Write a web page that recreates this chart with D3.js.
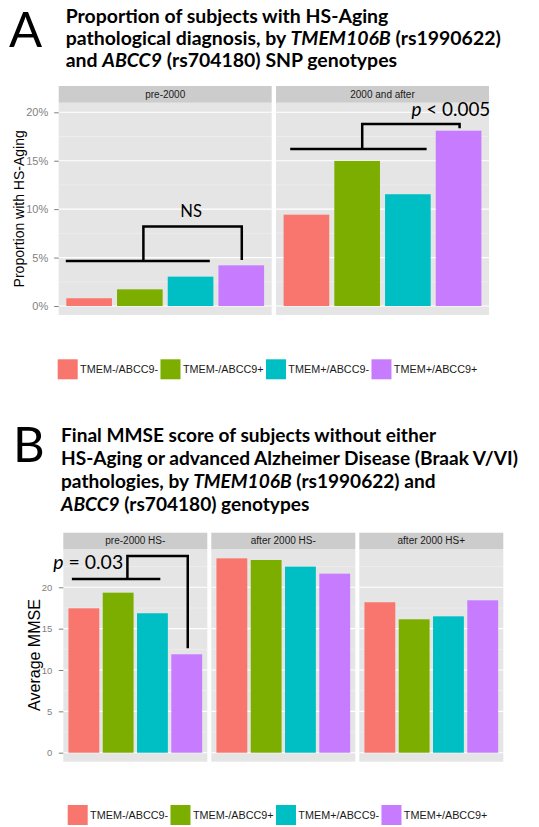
<!DOCTYPE html>
<html><head><meta charset="utf-8">
<script src="https://cdn.jsdelivr.net/npm/d3@7"></script>
<style>body{margin:0;background:#fff}svg{display:block}</style>
</head><body>
<svg id="c" width="539" height="827"></svg>
<script>
// ---------- data ----------
const genotypes = ["TMEM-/ABCC9-", "TMEM-/ABCC9+", "TMEM+/ABCC9-", "TMEM+/ABCC9+"];
const genotypeColors = ["#F8766D", "#7CAE00", "#00BFC4", "#C77CFF"];

const facetsA = ["pre-2000", "2000 and after"];
const propPre2000 = [0.8, 1.72, 3.03, 4.2];        // % with HS-Aging
const propAfter2000 = [9.43, 14.98, 11.54, 18.1];
const ticksA = [0, 5, 10, 15, 20];
const tickLabelsA = ["0%", "5%", "10%", "15%", "20%"];
const minorTicksA = [2.5, 7.5, 12.5, 17.5];

const facetsB = ["pre-2000 HS-", "after 2000 HS-", "after 2000 HS+"];
const mmsePre2000HSneg = [17.46, 19.35, 16.86, 11.9];
const mmseAfter2000HSneg = [23.5, 23.3, 22.5, 21.65];
const mmseAfter2000HSpos = [18.19, 16.13, 16.49, 18.43];
const ticksB = [0, 5, 10, 15, 20];
const tickLabelsB = ["0", "5", "10", "15", "20"];
const minorTicksB = [2.5, 7.5, 12.5, 17.5, 22.5];

// significance brackets, in data units (x = category position 1..4, y = value)
const nsBase = [[0.54, 4.65], [3.38, 4.65]];
const nsBracket = [[2.07, 4.65], [2.07, 8.2], [4.01, 8.2], [4.01, 4.75]];
const nsLabelPos = [3.01, 9.16];
const pA2Base = [[0.68, 16.2], [3.37, 16.2]];
const pA2Bracket = [[2.10, 16.2], [2.10, 18.8], [4.02, 18.8], [4.02, 18.36]];
const pA2LabelPos = [3.07, 19.63];
const pB1Base = [[0.65, 21.0], [3.23, 21.0]];
const pB1Bracket = [[2.27, 21.0], [2.27, 23.78], [4.03, 23.78], [4.03, 12.62]];
const pB1LabelPos = [0.107, 22.18];

// ---------- drawing ----------
const svg = d3.select("#c");
const AX = "Liberation Sans, Arial, sans-serif";
const TF = "Lato, Carlito, sans-serif";

function fitFont(sel, target) {
  const w = sel.node().getComputedTextLength();
  const fs = parseFloat(sel.attr("font-size"));
  return fs * target / w;
}

function drawTitle(letter, lx, lby, lines, x0, baselines, widestIdx, targetW) {
  svg.append("text").attr("x", lx).attr("y", lby).attr("font-family", TF)
    .attr("font-size", 49).attr("fill", "#000").text(letter);
  const texts = lines.map((parts, i) => {
    const t = svg.append("text").attr("x", x0).attr("y", baselines[i])
      .attr("font-family", TF).attr("font-weight", "bold").attr("font-size", 16).attr("fill", "#000");
    parts.forEach(p => t.append("tspan").attr("font-style", p.i ? "italic" : "normal").text(p.t));
    return t;
  });
  const fs = fitFont(texts[widestIdx], targetW);
  texts.forEach(t => t.attr("font-size", fs));
}

function drawFacets(cfg) {
  const y = d3.scaleLinear().domain([0, 20]).range(cfg.yRange);
  cfg.facets.forEach((name, fi) => {
    const left = cfg.left + fi * (cfg.width + cfg.gap), right = left + cfg.width;
    const g = svg.append("g");
    g.append("rect").attr("x", left).attr("y", cfg.stripBottom).attr("width", cfg.width)
      .attr("height", cfg.bottom - cfg.stripBottom).attr("fill", "#E5E5E5");
    g.append("rect").attr("x", left).attr("y", cfg.stripTop).attr("width", cfg.width)
      .attr("height", cfg.stripBottom - cfg.stripTop).attr("fill", "#CCCCCC");
    g.append("text").attr("x", (left + right) / 2).attr("y", (cfg.stripTop + cfg.stripBottom) / 2)
      .attr("dy", "0.35em").attr("text-anchor", "middle").attr("font-family", AX)
      .attr("font-size", 10).attr("fill", "#1A1A1A").text(name);
    cfg.minor.forEach(v => g.append("line").attr("x1", left).attr("x2", right)
      .attr("y1", y(v)).attr("y2", y(v)).attr("stroke", "#F2F2F2").attr("stroke-width", 0.6));
    cfg.ticks.forEach(v => g.append("line").attr("x1", left).attr("x2", right)
      .attr("y1", y(v)).attr("y2", y(v)).attr("stroke", "#FFFFFF").attr("stroke-width", 1.1));
    const xb = d3.scaleBand().domain(genotypes).range([left, right]).paddingInner(0.1).paddingOuter(0.15);
    g.selectAll("rect.bar").data(cfg.values[fi]).join("rect").attr("class", "bar")
      .attr("x", (d, i) => xb(genotypes[i])).attr("width", xb.bandwidth())
      .attr("y", d => y(d)).attr("height", d => y(0) - y(d))
      .attr("fill", (d, i) => genotypeColors[i]);
    if (fi === 0) {
      const ax = svg.append("g").attr("transform", `translate(${left},0)`)
        .call(d3.axisLeft(y).tickValues(cfg.ticks).tickFormat((d, i) => cfg.tickLabels[i])
          .tickSize(4.5).tickPadding(cfg.tickPad));
      ax.select(".domain").remove();
      ax.selectAll("line").attr("stroke", "#7F7F7F");
      ax.selectAll("text").attr("fill", "#7F7F7F").attr("font-family", AX).attr("font-size", cfg.tickFont);
    }
  });
  svg.append("text").attr("transform", `translate(${cfg.titleX},${cfg.titleY}) rotate(-90)`)
    .attr("text-anchor", "middle").attr("font-family", AX).attr("font-size", cfg.titleFont)
    .attr("fill", "#000").text(cfg.yTitle);
  return y;
}

function drawBracket(xs, y, base, bracket) {
  const line = d3.line().x(d => xs(d[0])).y(d => y(d[1]));
  svg.append("path").attr("d", line(base)).attr("fill", "none").attr("stroke", "#000").attr("stroke-width", 2.5);
  svg.append("path").attr("d", line(bracket)).attr("fill", "none").attr("stroke", "#000")
    .attr("stroke-width", 2.5).attr("stroke-linejoin", "miter");
}

function drawLegend(x0, yTop) {
  let x = x0;
  genotypes.forEach((gname, i) => {
    svg.append("rect").attr("x", x).attr("y", yTop).attr("width", 20).attr("height", 20)
      .attr("fill", genotypeColors[i]);
    x += 22.4;
    const t = svg.append("text").attr("x", x).attr("y", yTop + 10).attr("dy", "0.35em")
      .attr("font-family", AX).attr("font-size", 10.8).attr("fill", "#1A1A1A").text(gname);
    x += t.node().getComputedTextLength() + 2.4;
  });
}

// ---- Panel A ----
drawTitle("A", 9, 46.7, [
  [{t: "Proportion of subjects with HS-Aging"}],
  [{t: "pathological diagnosis, by "}, {t: "TMEM106B", i: 1}, {t: " (rs1990622)"}],
  [{t: "and "}, {t: "ABCC9", i: 1}, {t: " (rs704180) SNP genotypes"}]
], 65.7, [23.3, 45, 66.7], 1, 435.3);

const cfgA = {facets: facetsA, values: [propPre2000, propAfter2000], left: 58.7, width: 213, gap: 4.3,
  stripTop: 86, stripBottom: 102.7, bottom: 315, yRange: [306, 112.3],
  ticks: ticksA, tickLabels: tickLabelsA, minor: minorTicksA, tickFont: 11, tickPad: 6,
  yTitle: "Proportion with HS-Aging", titleX: 24, titleY: 208.8, titleFont: 14};
const yA = drawFacets(cfgA);
const xA1 = d3.scaleLinear().domain([0.4, 4.6]).range([58.7, 271.7]);
const xA2 = d3.scaleLinear().domain([0.4, 4.6]).range([276, 489]);
drawBracket(xA1, yA, nsBase, nsBracket);
drawBracket(xA2, yA, pA2Base, pA2Bracket);
const ns = svg.append("text").attr("x", xA1(nsLabelPos[0])).attr("y", yA(nsLabelPos[1]))
  .attr("text-anchor", "middle").attr("font-family", TF).attr("font-size", 16).text("NS");
ns.attr("font-size", fitFont(ns, 21.7));
const pA = svg.append("text").attr("x", xA2(pA2LabelPos[0])).attr("y", yA(pA2LabelPos[1]))
  .attr("font-family", TF).attr("font-size", 16);
pA.append("tspan").attr("font-style", "italic").text("p");
pA.append("tspan").text(" < 0.005");
pA.attr("font-size", fitFont(pA, 79));
drawLegend(57.7, 359.3);

// ---- Panel B ----
drawTitle("B", 13, 461.7, [
  [{t: "Final MMSE score of subjects without either"}],
  [{t: "HS-Aging or advanced Alzheimer Disease (Braak V/VI)"}],
  [{t: "pathologies, by "}, {t: "TMEM106B", i: 1}, {t: " (rs1990622) and"}],
  [{t: "ABCC9", i: 1}, {t: " (rs704180) genotypes"}]
], 61, [442, 465, 488, 511], 1, 457.3);

const cfgB = {facets: facetsB, values: [mmsePre2000HSneg, mmseAfter2000HSneg, mmseAfter2000HSpos],
  left: 63.3, width: 144, gap: 4, stripTop: 532.7, stripBottom: 549, bottom: 761.7, yRange: [752.7, 587.3],
  ticks: ticksB, tickLabels: tickLabelsB, minor: minorTicksB, tickFont: 9.5, tickPad: 6.5,
  yTitle: "Average MMSE", titleX: 40, titleY: 655, titleFont: 16};
const yB = drawFacets(cfgB);
const xB1 = d3.scaleLinear().domain([0.4, 4.6]).range([63.3, 207.3]);
drawBracket(xB1, yB, pB1Base, pB1Bracket);
const pB = svg.append("text").attr("x", xB1(pB1LabelPos[0])).attr("y", yB(pB1LabelPos[1]))
  .attr("font-family", TF).attr("font-size", 16);
pB.append("tspan").attr("font-style", "italic").text("p");
pB.append("tspan").text(" = 0.03");
pB.attr("font-size", fitFont(pB, 70));
drawLegend(67.7, 805);
</script>
</body></html>
